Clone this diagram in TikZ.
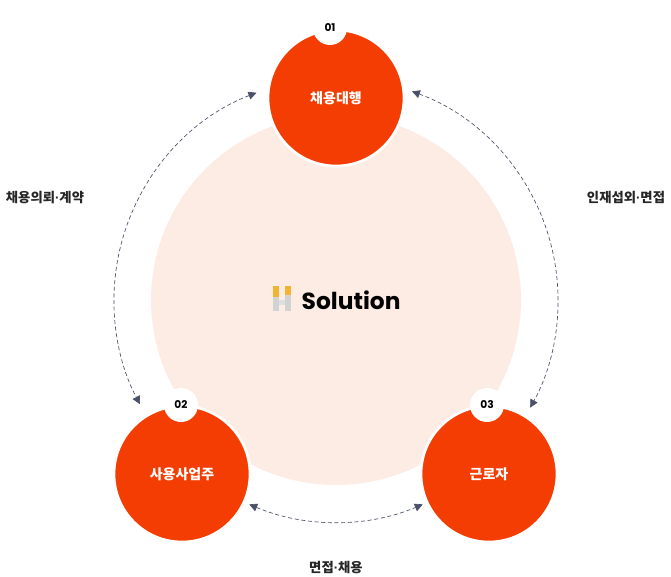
\documentclass[tikz,border=0pt]{standalone}
\usepackage{fontspec}
\newfontfamily\kr{Noto Sans CJK KR}
\newfontfamily\pop{Poppins}
\usetikzlibrary{arrows.meta,calc}
\definecolor{redc}{HTML}{F43D02}
\definecolor{pinkc}{HTML}{FDECE4}
\definecolor{arr}{HTML}{4A5068}
\definecolor{gold}{HTML}{F2B531}
\newcommand{\mdot}{{\fontspec{Liberation Sans}·}}
\begin{document}
\begin{tikzpicture}[x=0.75pt,y=0.75pt,
  redball/.style={circle,fill=redc,draw=white,line width=2pt,minimum size=136*0.75pt,inner sep=0pt,text=white,font=\kr\bfseries\fontsize{10.5}{12}\selectfont},
  badge/.style={circle,fill=white,minimum size=34*0.75pt,inner sep=0pt,font=\pop\bfseries\fontsize{8}{9}\selectfont},
  lab/.style={font=\kr\bfseries\fontsize{10}{12}\selectfont,text=black!85},
  dasharc/.style={draw=arr,densely dashed,line width=0.5pt,{Triangle[length=6pt,width=6pt]}-{Triangle[length=6pt,width=6pt]}}]
\useasboundingbox (0,0) rectangle (671,576);
\node[circle,fill=pinkc,minimum size=370*0.75pt,inner sep=0pt] (big) at (336,276) {};
\node[redball] (n1) at (336,478) {채용대행};
\node[redball] (n2) at (182,102) {사용사업주};
\node[redball] (n3) at (489,102) {근로자};
\node[badge] (b1) at (330,548) {01};
\node[badge] (b2) at (181,171) {02};
\node[badge] (b3) at (487,171) {03};
\node[lab] (l1) at (45,378) {채용의뢰\mdot 계약};
\node[lab] (l2) at (626,378) {인재섭외\mdot 면접};
\node[lab] (l3) at (336,8) {면접\mdot 채용};
% logo
\fill[gold] (273,290) rectangle (279,279);
\fill[gray!35] (273,279) rectangle (279,265);
\fill[gold] (285,290) rectangle (291,281);
\fill[gray!35] (285,281) rectangle (291,265);
\fill[gray!25] (279,276) rectangle (285,271);
\node[font=\pop\bfseries\fontsize{17.5}{20}\selectfont,anchor=west] (logo) at (297,276) {Solution};
% arcs
\coordinate (c) at (336,276);
\draw[dasharc] ($(c)+(111:222)$) arc[start angle=111,end angle=208,radius=222];
\draw[dasharc] ($(c)+(70:222)$) arc[start angle=70,end angle=-29,radius=222];
\draw[dasharc] ($(c)+(247:222)$) arc[start angle=247,end angle=293,radius=222];
\end{tikzpicture}
\end{document}
